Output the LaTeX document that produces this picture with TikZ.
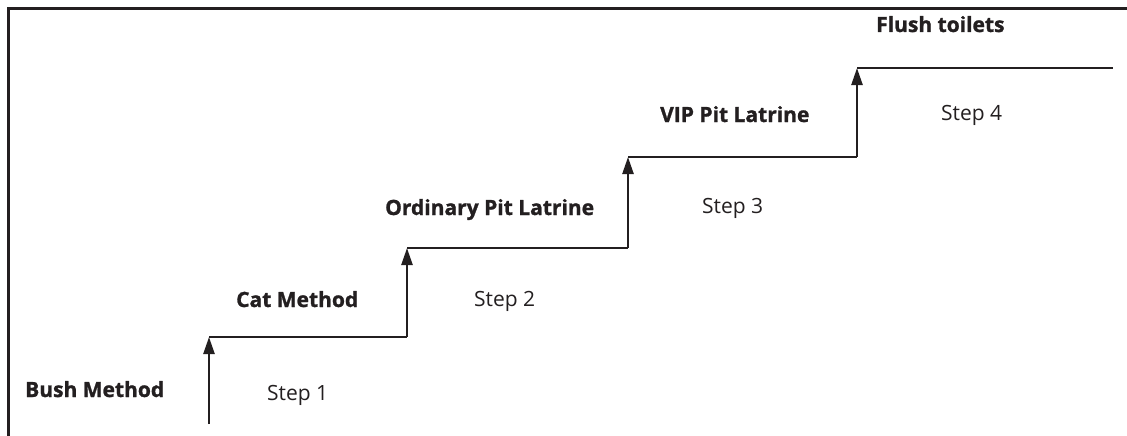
\documentclass[tikz,border=0pt]{standalone}
\usepackage{fontspec}
\setmainfont{Open Sans}
\newfontfamily\heavyfamily{Open Sans}[BoldFeatures={FakeBold=1.2}]
\usetikzlibrary{arrows.meta}
\definecolor{ink}{HTML}{231F20}
\begin{document}
\begin{tikzpicture}[x=1pt,y=-1pt,
  stair/.style={draw=ink,line width=2.4pt},
  riser/.style={stair,-{Triangle[length=17pt,width=11pt]}},
  level/.style={font=\fontsize{21}{24}\selectfont\heavyfamily\bfseries,text=ink,inner sep=0pt,anchor=base west},
  steplabel/.style={font=\fontsize{21}{24}\selectfont,text=ink,inner sep=0pt,anchor=base west}]
\useasboundingbox (0,0) rectangle (1127,436);

% open frame: top and left edges only
\draw[stair] (1127,8.5) -- (8.5,8.5) -- (8.5,436);

% corners of the staircase
\coordinate (s0) at (209,424);
\coordinate (a1) at (209,337); \coordinate (b1) at (407,337);
\coordinate (a2) at (407,248); \coordinate (b2) at (628,248);
\coordinate (a3) at (628,157); \coordinate (b3) at (857,157);
\coordinate (a4) at (857,68);  \coordinate (b4) at (1113,68);

% risers (arrows) and treads
\draw[riser] (s0) -- (a1);
\draw[stair] (a1) -- (b1);
\draw[riser] (b1) -- (a2);
\draw[stair] (a2) -- (b2);
\draw[riser] (b2) -- (a3);
\draw[stair] (a3) -- (b3);
\draw[riser] (b3) -- (a4);
\draw[stair] (a4) -- (b4);

% levels
\node[level] (bush) at (25,397) {Bush Method};
\node[level] (cat) at (236,307) {Cat Method};
\node[level] (pit) at (385,215) {Ordinary Pit Latrine};
\node[level] (vip) at (660,122) {VIP Pit Latrine};
\node[level] (flush) at (876,32) {Flush toilets};

% step numbers
\node[steplabel] (st1) at (267,400) {Step 1};
\node[steplabel] (st2) at (474,306) {Step 2};
\node[steplabel] (st3) at (702,213) {Step 3};
\node[steplabel] (st4) at (941,120) {Step 4};
\end{tikzpicture}
\end{document}
